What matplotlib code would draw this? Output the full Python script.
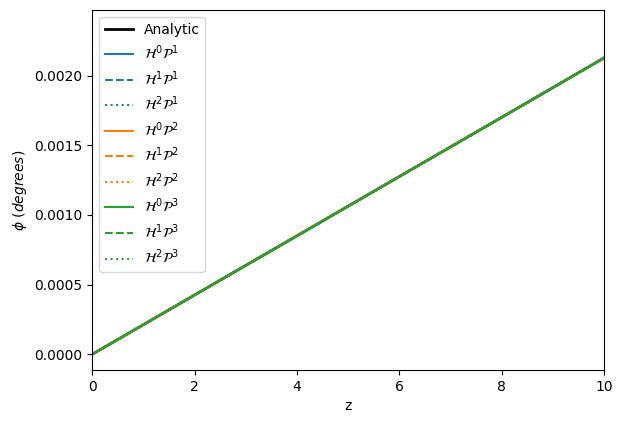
import matplotlib.pyplot as plt
import numpy as np

# Data (linear rise of phi with z)
z = np.array([0.0, 2.0, 4.0, 6.0, 8.0, 10.0])
phi_analytic = np.array([0.0, 0.000426, 0.000851, 0.001277, 0.001702, 0.002129])
orders_h = [0, 1, 2]
orders_p = [1, 2, 3]
colors = ["C0", "C1", "C2"]
styles = ["-", "--", ":"]

fig = plt.figure(figsize=(6.22, 4.23), dpi=100)
ax = fig.add_axes([92.3 / 622, 1 - 370 / 423, (604.3 - 92.3) / 622, (370 - 10) / 423])

ax.plot(z, phi_analytic, color="k", linewidth=2, label="Analytic")
for p, c in zip(orders_p, colors):
    for h, ls in zip(orders_h, styles):
        ax.plot(z, phi_analytic, color=c, linestyle=ls,
                label=r"$\mathcal{H}^%d\mathcal{P}^%d$" % (h, p))

ax.set_xlim(0, 10)
ax.set_ylim(-0.000113, 0.002472)
ax.set_xlabel("z")
ax.set_ylabel(r"$\phi\ (degrees)$")
ax.legend(loc="upper left")

fig.savefig("out.png", dpi=100)
